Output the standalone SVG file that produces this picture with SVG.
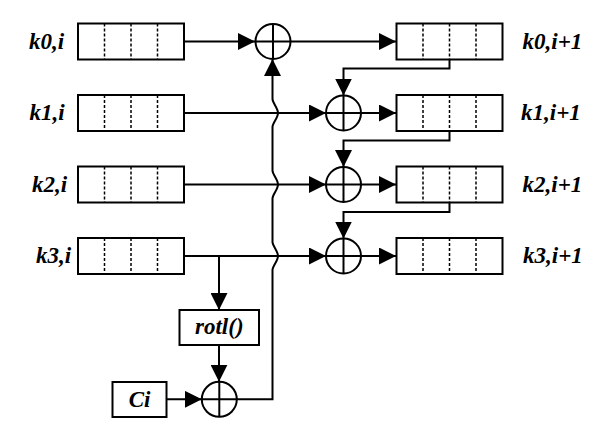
<svg xmlns="http://www.w3.org/2000/svg" width="600" height="441" viewBox="0 0 600 441">
<style>
.box{fill:#fff;stroke:#000;stroke-width:2}
.div{stroke:#000;stroke-width:1.5;stroke-dasharray:3,2}
.ln{fill:none;stroke:#000;stroke-width:2}
.xor{fill:#fff;stroke:#000;stroke-width:2}
.lbl{font-family:"Liberation Serif",serif;font-weight:bold;font-style:italic;font-size:23px;fill:#000}
</style>
<defs>
<marker id="ah" markerWidth="17" markerHeight="17" viewBox="0 0 17 17" refX="17" refY="8.5" markerUnits="userSpaceOnUse" orient="auto">
<path d="M0,0 L17,8.5 L0,17 Z" fill="#000"/>
</marker>
<g id="reg">
<rect class="box" x="0" y="-18" width="106" height="36"/>
<line class="div" x1="26.5" y1="-18" x2="26.5" y2="18"/>
<line class="div" x1="53" y1="-18" x2="53" y2="18"/>
<line class="div" x1="79.5" y1="-18" x2="79.5" y2="18"/>
</g>
<g id="xr">
<circle class="xor" cx="0" cy="0" r="17.5"/>
<line class="ln" x1="-17.5" y1="0" x2="17.5" y2="0"/>
<line class="ln" x1="0" y1="-17.5" x2="0" y2="17.5"/>
</g>
</defs>
<g id="connectors">
<line class="ln" x1="184" y1="41.5" x2="255" y2="41.5" marker-end="url(#ah)"/>
<line class="ln" x1="290.5" y1="41.5" x2="396" y2="41.5" marker-end="url(#ah)"/>
<line class="ln" x1="184" y1="113" x2="326" y2="113" marker-end="url(#ah)"/>
<line class="ln" x1="361" y1="113" x2="396" y2="113" marker-end="url(#ah)"/>
<line class="ln" x1="184" y1="184.5" x2="326" y2="184.5" marker-end="url(#ah)"/>
<line class="ln" x1="361" y1="184.5" x2="396" y2="184.5" marker-end="url(#ah)"/>
<line class="ln" x1="184" y1="256" x2="326" y2="256" marker-end="url(#ah)"/>
<line class="ln" x1="361" y1="256" x2="396" y2="256" marker-end="url(#ah)"/>
<path class="ln" d="M449.5,59 V68.5 H343.5 V95.5" marker-end="url(#ah)"/>
<path class="ln" d="M449.5,131 V140.5 H343.5 V167" marker-end="url(#ah)"/>
<path class="ln" d="M449.5,202.5 V212 H343.5 V238.5" marker-end="url(#ah)"/>
<path class="ln" d="M219,256 V310" marker-end="url(#ah)"/>
<path class="ln" d="M219,345 V381.8" marker-end="url(#ah)"/>
<path class="ln" d="M166.5,399.3 H201.8" marker-end="url(#ah)"/>
<path class="ln" d="M236.8,399.3 H272.5 V270 C272.5,266 278,261 278,256 C278,251 272.5,246 272.5,242 V198.5 C272.5,194.5 278,189.5 278,184.5 C278,179.5 272.5,174.5 272.5,170.5 V127 C272.5,123 278,118 278,113 C278,108 272.5,103 272.5,99 V59" marker-end="url(#ah)"/>
</g>
<g id="k0i"><use href="#reg" x="78" y="41.5"/><text class="lbl" x="29" y="48.5">k0,i</text></g>
<g id="k1i"><use href="#reg" x="78" y="113"/><text class="lbl" x="29.5" y="120">k1,i</text></g>
<g id="k2i"><use href="#reg" x="78" y="184.5"/><text class="lbl" x="32" y="191.5">k2,i</text></g>
<g id="k3i"><use href="#reg" x="78" y="256"/><text class="lbl" x="36" y="263">k3,i</text></g>
<g id="k0n"><use href="#reg" x="396.5" y="41.5"/><text class="lbl" x="522.5" y="48.5">k0,i+1</text></g>
<g id="k1n"><use href="#reg" x="396.5" y="113"/><text class="lbl" x="521" y="120">k1,i+1</text></g>
<g id="k2n"><use href="#reg" x="396.5" y="184.5"/><text class="lbl" x="522.5" y="191.5">k2,i+1</text></g>
<g id="k3n"><use href="#reg" x="396.5" y="256"/><text class="lbl" x="523" y="263">k3,i+1</text></g>
<g id="xor0"><use href="#xr" x="273" y="41.5"/></g>
<g id="xor1"><use href="#xr" x="343.5" y="113"/></g>
<g id="xor2"><use href="#xr" x="343.5" y="184.5"/></g>
<g id="xor3"><use href="#xr" x="343.5" y="256"/></g>
<g id="xorC"><use href="#xr" x="219.3" y="399.3"/></g>
<g id="rotl"><rect class="box" x="179.5" y="310" width="79.5" height="35"/><text class="lbl" x="219.3" y="334" text-anchor="middle">rotl()</text></g>
<g id="ci"><rect class="box" x="112.5" y="382" width="54" height="35"/><text class="lbl" x="139.5" y="407" text-anchor="middle">Ci</text></g>
</svg>
